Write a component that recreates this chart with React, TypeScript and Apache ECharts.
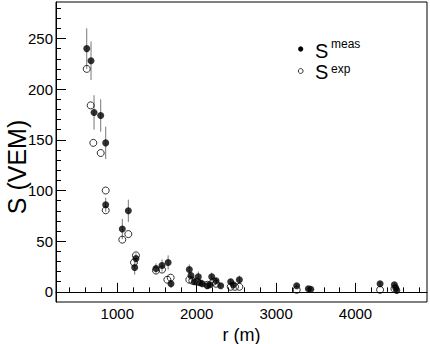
import React, { useEffect, useRef } from "react";
import * as echarts from "echarts";

// Measured signal S^meas: distance r (m), signal S (VEM), error (VEM)
const measR = [615, 669, 707, 791, 854, 854, 1063, 1139, 1219, 1235, 1487, 1563, 1640, 1676, 1907, 1928, 1970, 2020, 2041, 2071, 2134, 2167, 2189, 2243, 2302, 2428, 2461, 2537, 3259, 3406, 3436, 4309, 4489, 4506, 4519];
const measS = [240, 228, 177, 174, 147, 86, 62, 80, 24, 33, 23, 26, 29, 8, 22, 16, 10, 15, 9, 8, 6, 7, 15, 11, 6, 10, 7, 12, 6, 3, 2.5, 8, 7, 4, 1.5];
const measErr = [20, 19, 17, 16, 16, 7, 10, 11, 7, 5, 5, 6, 7, 4, 5, 4, 3, 5, 3, 3, 2, 2, 4, 3, 2, 3, 2, 4, 2, 1, 1, 2.5, 2, 2, 1];

// Expected signal S^exp
const expR = [615, 665, 698, 791, 854, 854, 1063, 1139, 1210, 1235, 1487, 1563, 1630, 1672, 1907, 1945, 2008, 2134, 2209, 2243, 2428, 2482, 2537, 3259, 4309, 4490];
const expS = [220, 184, 147, 137, 100, 80.5, 51.5, 57, 29, 36, 21, 22, 12, 14, 12, 11, 10, 7, 10, 8, 5, 5, 5, 2, 2, 3];

// Axis ranges and tick labels
const xRange = [228, 4900];
const yRange = [-10, 286];
const xMajorTicks = [1000, 2000, 3000, 4000];
const yMajorTicks = [0, 50, 100, 150, 200, 250];
const xMinorTicks: number[] = [];
for (let v = 400; v <= 4800; v += 200) xMinorTicks.push(v);
const yMinorTicks: number[] = [];
for (let v = 0; v <= 280; v += 10) yMinorTicks.push(v);

const FONT = "'Liberation Sans', Arial, Helvetica, sans-serif";

export default function App() {
  const ref = useRef<HTMLDivElement>(null);
  useEffect(() => {
    if (!ref.current) return;
    const chart = echarts.init(ref.current, null, { renderer: "svg" });
    const errData = measR.map((r, i) => [r, measS[i], measErr[i]]);
    const option: any = {
      animation: false,
      backgroundColor: "#fff",
      grid: {
        left: 56,
        top: 2,
        width: 371,
        height: 300,
        containLabel: false,
        outerBoundsMode: "none",
        show: true,
        borderColor: "#000",
        borderWidth: 1,
        backgroundColor: "transparent",
      },
      xAxis: [
        {
          type: "value",
          min: xRange[0],
          max: xRange[1],
          axisLine: { show: true, lineStyle: { color: "#000", width: 1 } },
          axisTick: { show: true, inside: true, length: 9, customValues: xMajorTicks, lineStyle: { color: "#000" } },
          axisLabel: {
            customValues: xMajorTicks,
            formatter: (v: number) => String(v),
            fontSize: 15,
            color: "#000",
            fontFamily: FONT,
            margin: 4,
          },
          splitLine: { show: false },
          name: "r (m)",
          nameLocation: "middle",
          nameGap: 24,
          nameTextStyle: { fontSize: 18, color: "#000", fontFamily: FONT },
        },
        {
          type: "value",
          min: xRange[0],
          max: xRange[1],
          position: "bottom",
          axisLine: { show: false },
          axisTick: { show: true, inside: true, length: 4.5, customValues: xMinorTicks, lineStyle: { color: "#000" } },
          axisLabel: { show: false },
          splitLine: { show: false },
        },
      ],
      yAxis: [
        {
          type: "value",
          min: yRange[0],
          max: yRange[1],
          axisLine: { show: true, lineStyle: { color: "#000", width: 1 } },
          axisTick: { show: true, inside: true, length: 10, customValues: yMajorTicks, lineStyle: { color: "#000" } },
          axisLabel: {
            customValues: yMajorTicks,
            formatter: (v: number) => String(v),
            fontSize: 15,
            color: "#000",
            fontFamily: FONT,
            margin: 3,
          },
          splitLine: { show: false },
        },
        {
          type: "value",
          min: yRange[0],
          max: yRange[1],
          position: "left",
          axisLine: { show: false },
          axisTick: { show: true, inside: true, length: 5, customValues: yMinorTicks, lineStyle: { color: "#000" } },
          axisLabel: { show: false },
          splitLine: { show: false },
        },
      ],
      series: [
        {
          type: "custom",
          name: "err",
          data: errData,
          encode: { x: 0, y: 1 },
          z: 1,
          renderItem: (params: any, api: any) => {
            const x = api.value(0);
            const y = api.value(1);
            const e = api.value(2);
            const p1 = api.coord([x, y - e]);
            const p2 = api.coord([x, y + e]);
            return {
              type: "line",
              shape: { x1: p1[0], y1: p1[1], x2: p2[0], y2: p2[1] },
              style: { stroke: "#777", lineWidth: 1 },
            };
          },
        },
        {
          type: "scatter",
          name: "S exp",
          data: expR.map((r, i) => [r, expS[i]]),
          symbol: "circle",
          symbolSize: 7,
          z: 2,
          itemStyle: { color: "rgba(0,0,0,0)", borderColor: "#000", borderWidth: 1 },
        },
        {
          type: "scatter",
          name: "S meas",
          data: measR.map((r, i) => [r, measS[i]]),
          symbol: "circle",
          symbolSize: 7,
          z: 3,
          itemStyle: { color: "#000" },
        },
      ],
      graphic: [
        {
          type: "text",
          x: 17,
          y: 167,
          rotation: Math.PI / 2,
          style: { text: "S (VEM)", fontSize: 25, fontFamily: FONT, fill: "#000", align: "center", verticalAlign: "middle" },
        },
        { type: "circle", shape: { cx: 300.7, cy: 49, r: 2.6 }, style: { fill: "#000" } },
        { type: "text", x: 315, y: 50.7, style: { text: "S", fontSize: 20, fontFamily: FONT, fill: "#000", verticalAlign: "middle" } },
        { type: "text", x: 331, y: 44.1, style: { text: "meas", fontSize: 12, fontFamily: FONT, fill: "#000", verticalAlign: "middle" } },
        { type: "circle", shape: { cx: 300.7, cy: 71, r: 2.4 }, style: { fill: "none", stroke: "#000", lineWidth: 0.8 } },
        { type: "text", x: 315, y: 72, style: { text: "S", fontSize: 20, fontFamily: FONT, fill: "#000", verticalAlign: "middle" } },
        { type: "text", x: 331, y: 68.8, style: { text: "exp", fontSize: 12, fontFamily: FONT, fill: "#000", verticalAlign: "middle" } },
      ],
    };
    chart.setOption(option);
    return () => chart.dispose();
  }, []);
  return <div ref={ref} style={{ position: "fixed", left: 0, top: 0, width: 430, height: 344 }} />;
}
